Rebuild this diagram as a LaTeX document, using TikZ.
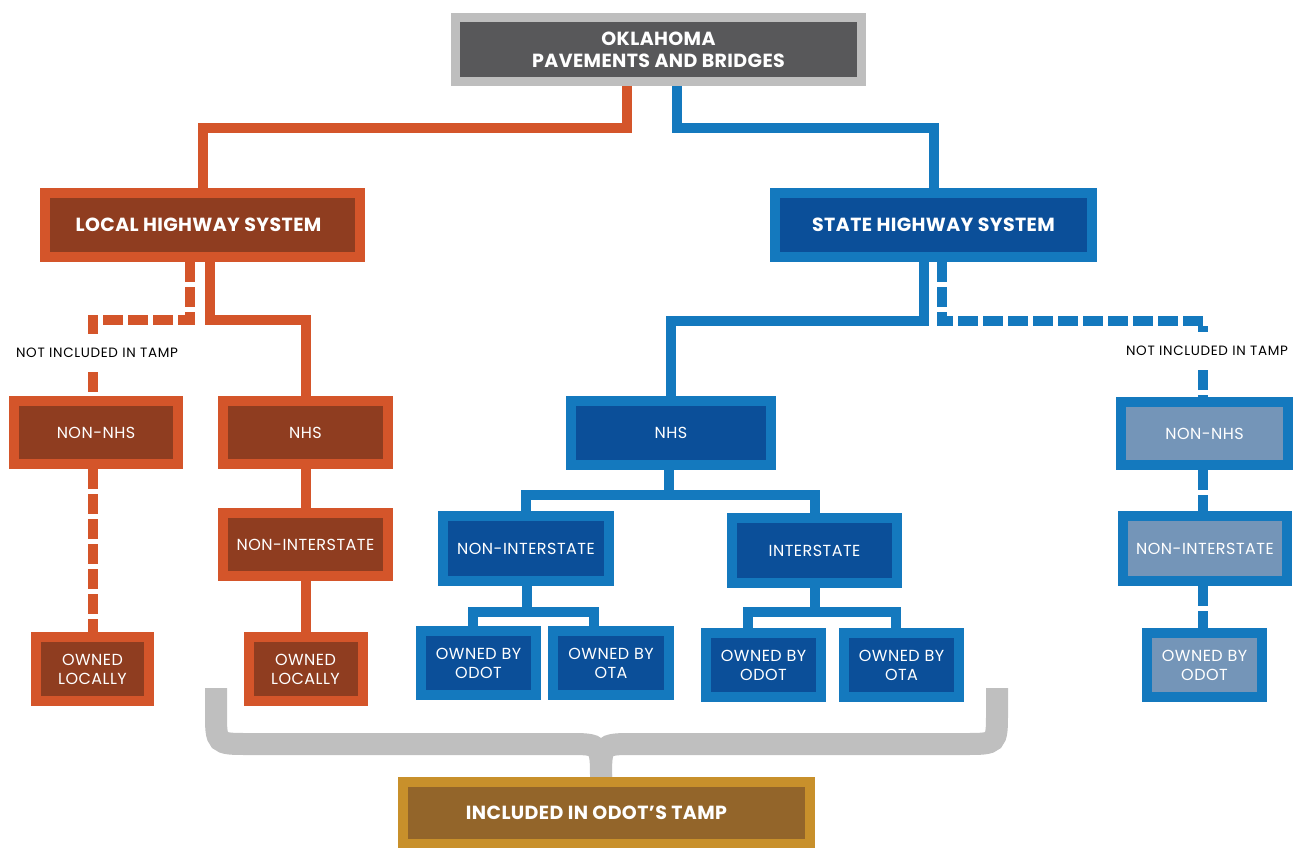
\documentclass[tikz,border=0pt]{standalone}
\usepackage{fontspec}
\setmainfont{Poppins}
\definecolor{oOut}{HTML}{D4552A}
\definecolor{oIn}{HTML}{8F3D20}
\definecolor{bOut}{HTML}{1479BE}
\definecolor{bIn}{HTML}{0B4F99}
\definecolor{lIn}{HTML}{7495B8}
\definecolor{gOut}{HTML}{BEBEBE}
\definecolor{gIn}{HTML}{58585A}
\definecolor{yOut}{HTML}{C8902B}
\definecolor{yIn}{HTML}{93652A}
\definecolor{brc}{HTML}{BFBFBF}
\begin{document}
\begin{tikzpicture}[x=1pt,y=-1pt,
  box/.style={draw, line width=10pt, inner sep=0pt, align=center, text=white,
    font=\fontsize{16}{19}\selectfont\addfontfeatures{LetterSpace=3}},
  hbox/.style={box, font=\bfseries\fontsize{19}{22}\selectfont\addfontfeatures{LetterSpace=2}},
  ob/.style={draw=oOut, fill=oIn},
  bb/.style={draw=bOut, fill=bIn},
  lb/.style={draw=bOut, fill=lIn},
  note/.style={inner sep=0pt, minimum height=38pt, text=black, font=\fontsize{13.5}{15}\selectfont\addfontfeatures{LetterSpace=5}},
  oline/.style={draw=oOut, line width=10pt, line join=miter},
  bline/.style={draw=bOut, line width=10pt, line join=miter},
  odash/.style={oline, dash pattern=on 20pt off 5pt},
  bdash/.style={bline, dash pattern=on 20pt off 5pt},
  brace/.style={draw=brc, line width=22pt}
]
\useasboundingbox (0,0) rectangle (1299,848);

% brace
\draw[brace] (216,688) -- (216,712) .. controls (216,744) .. (248,744) -- (568,744) .. controls (601,744) .. (601,780);
\draw[brace] (997,688) -- (997,712) .. controls (997,744) .. (965,744) -- (634,744) .. controls (601,744) .. (601,780);

% nodes
\node[hbox, line width=9pt, draw=gOut, fill=gIn, minimum width=406pt, minimum height=64pt] (top) at (658.5,49.5) {OKLAHOMA\\PAVEMENTS AND BRIDGES};
\node[hbox, ob, minimum width=315pt, minimum height=64pt] (local) at (202.5,225) {LOCAL HIGHWAY SYSTEM\hspace*{8pt}};
\node[hbox, bb, minimum width=317pt, minimum height=64pt] (state) at (933.5,225) {STATE HIGHWAY SYSTEM};

\node[box, ob, minimum width=164pt, minimum height=63pt] (lnon) at (96,432.5) {NON-NHS};
\node[box, ob, minimum width=165pt, minimum height=63pt] (lnhs) at (305.5,432.5) {NHS};
\node[box, ob, minimum width=165pt, minimum height=63pt] (lni) at (305.5,544.5) {NON-INTERSTATE};
\node[box, ob, minimum width=113pt, minimum height=64pt] (lown1) at (92.5,669) {OWNED\\LOCALLY};
\node[box, ob, minimum width=114pt, minimum height=64pt] (lown2) at (305.5,669) {OWNED\\LOCALLY};

\node[box, bb, minimum width=200pt, minimum height=64pt] (snhs) at (671,433) {NHS};
\node[box, bb, minimum width=166pt, minimum height=65pt] (sni) at (526,548.5) {NON-INTERSTATE};
\node[box, bb, minimum width=165pt, minimum height=65pt] (sint) at (814.5,550.5) {INTERSTATE};
\node[box, bb, minimum width=115pt, minimum height=64pt] (so1) at (478.5,663) {OWNED BY\\ODOT};
\node[box, bb, minimum width=116pt, minimum height=64pt] (so2) at (611,663) {OWNED BY\\OTA};
\node[box, bb, minimum width=115pt, minimum height=64pt] (so3) at (763.5,665) {OWNED BY\\ODOT};
\node[box, bb, minimum width=115pt, minimum height=64pt] (so4) at (901.5,665) {OWNED BY\\OTA};

\node[box, lb, minimum width=167pt, minimum height=63pt] (rnon) at (1204.5,433.5) {NON-NHS};
\node[box, lb, minimum width=164pt, minimum height=65pt] (rni) at (1205,548.5) {NON-INTERSTATE};
\node[box, lb, minimum width=115pt, minimum height=64pt] (rown) at (1204.5,665) {OWNED BY\\ODOT};

\node[hbox, draw=yOut, fill=yIn, minimum width=407pt, minimum height=62pt] (tamp) at (606.5,813) {INCLUDED IN ODOT’S TAMP\hspace*{20pt}};

\node[note] (lnote) at (97,353) {NOT INCLUDED IN TAMP};
\node[note] (rnote) at (1207,351) {NOT INCLUDED IN TAMP};

% coordinates
\coordinate (t1) at (627,128);
\coordinate (t2) at (677,128);
\coordinate (l1) at (210,320);
\coordinate (l2) at (190,320);
\coordinate (l3) at (93,353);
\coordinate (s1) at (924,321);
\coordinate (s2) at (942,321);
\coordinate (s3) at (1203,351);
\coordinate (n1) at (669,495);
\coordinate (a1) at (527,612);
\coordinate (a2) at (473,612);
\coordinate (a3) at (594,612);
\coordinate (b1) at (815,612);
\coordinate (b2) at (748,612);
\coordinate (b3) at (896,612);

% connectors
\draw[oline] (top.south -| t1) -- (t1) -| (local.north);
\draw[bline] (top.south -| t2) -- (t2) -| (state.north);

\draw[oline] (local.south -| l1) -- (l1) -| (lnhs.north);
\draw[oline] (lnhs.south) -- (lni.north);
\draw[oline] (lni.south) -- (lown2.north);
\draw[odash] (local.south -| l2) -- (l2) -| (lnote.north -| l3);
\draw[odash] (lnote.south -| l3) -- (lnon.north -| l3);
\draw[odash] (lnon.south -| l3) -- (lown1.north -| l3);

\draw[bline] (state.south -| s1) -- (s1) -| (snhs.north);
\draw[bline] (snhs.south -| n1) -- (n1);
\draw[bline] (sni.north) |- (n1) -| (sint.north);
\draw[bline] (sni.south -| a1) -- (a1);
\draw[bline] (so1.north -| a2) |- (a1) -| (so2.north -| a3);
\draw[bline] (sint.south -| b1) -- (b1);
\draw[bline] (so3.north -| b2) |- (b1) -| (so4.north -| b3);

\draw[bdash] (state.south -| s2) -- (s2) -| (rnote.north -| s3);
\draw[bdash] (rnote.south -| s3) -- (rnon.north -| s3);
\draw[bdash] (rnon.south -| s3) -- (rni.north -| s3);
\draw[bdash] (rni.south -| s3) -- (rown.north -| s3);
\end{tikzpicture}
\end{document}
